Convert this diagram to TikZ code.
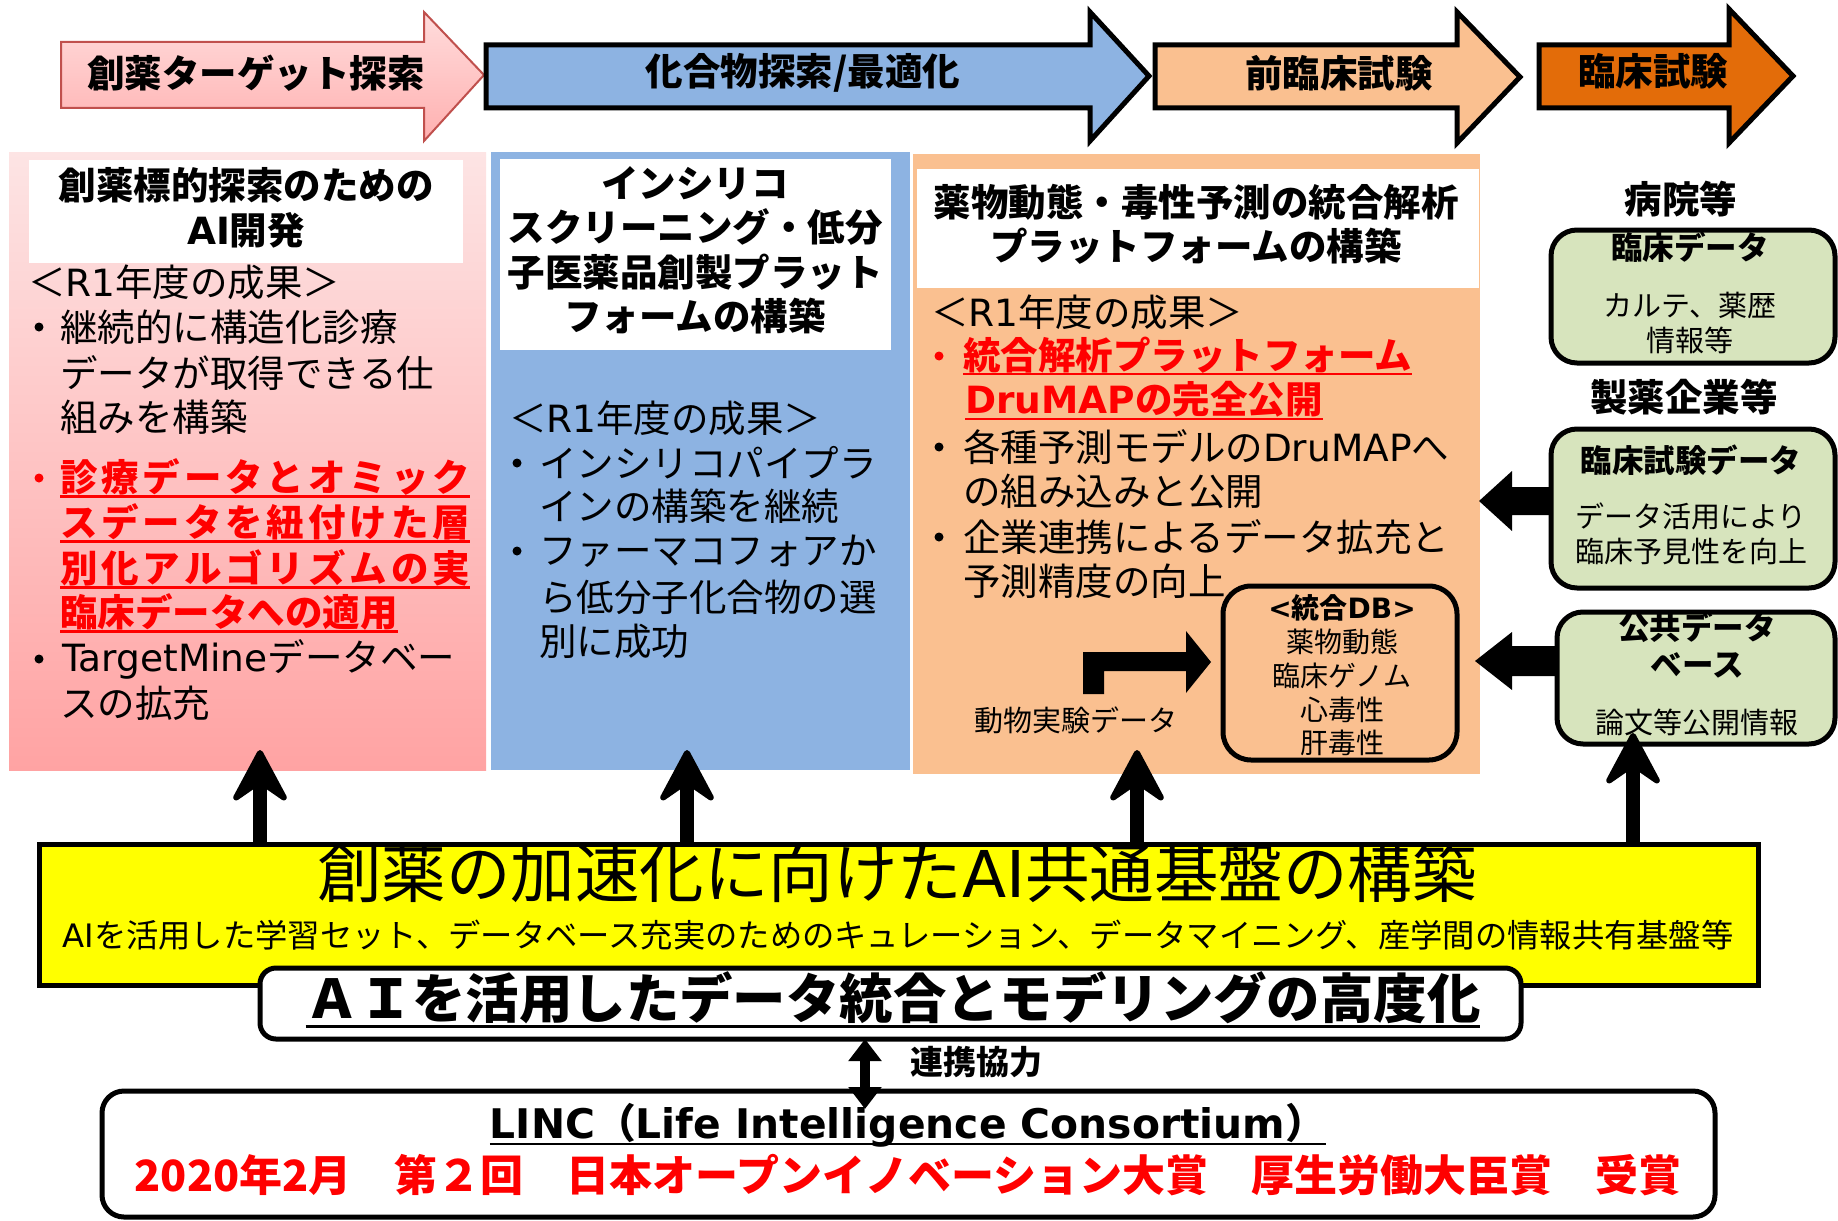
\documentclass[tikz,border=0pt]{standalone}
\usepackage{fontspec}
\setmainfont{Noto Sans CJK JP}
\newfontfamily\lat{DejaVu Sans}
\usetikzlibrary{arrows.meta}
\definecolor{pinkA}{HTML}{FDE4E4}
\definecolor{pinkB}{HTML}{FFA3A3}
\definecolor{apinkA}{HTML}{FFDCDC}
\definecolor{apinkB}{HTML}{FFB0B0}
\definecolor{aborder}{HTML}{C0504D}
\definecolor{blueF}{HTML}{8DB3E2}
\definecolor{peach}{HTML}{FAC090}
\definecolor{dorange}{HTML}{E36C09}
\definecolor{greenF}{HTML}{D7E4BD}
\definecolor{redT}{HTML}{FF0000}
\definecolor{yellowF}{HTML}{FFFF00}
\makeatletter
\newcommand\spreadtxt[1]{\def\sp@sep{}\@tfor\sp@c:=#1\do{\sp@sep\sp@c\def\sp@sep{\hfill}}}
\makeatother
\newcommand\jus[2]{\makebox[#1][l]{\spreadtxt{#2}}}
\newcommand\ulx[1]{\setbox0\hbox{#1}\rlap{\rule[-0.17em]{\wd0}{0.065em}}\box0}
\begin{document}
\begin{tikzpicture}[x=1pt,y=-1pt,
  t/.style={inner sep=0pt,outer sep=0pt},
  lw/.style={t,anchor=west},
  fb/.style={font=\fontsize{37.5}{45}\selectfont},
  fbb/.style={font=\bfseries\fontsize{37.5}{45}\selectfont},
  rb/.style={font=\bfseries\fontsize{37.5}{45}\selectfont,text=redT},
  gt/.style={t,font=\bfseries\fontsize{31.5}{36}\selectfont},
  gb/.style={t,font=\fontsize{29}{34}\selectfont},
  dbf/.style={t,font=\fontsize{28}{32}\selectfont},
  stage/.style={draw=black,line width=5pt,line join=miter},
  panel/.style={t,draw=none},
  whead/.style={t,fill=white,draw=none},
  gbox/.style={t,draw=black,line width=5pt,rounded corners=26pt,fill=greenF},
  uparrow/.style={line width=14pt,-{Stealth[length=60pt,width=64pt,inset=22pt,line width=6pt,round]}},
  dblarrow/.style={line width=10pt,{Triangle[length=22pt,width=32pt]}-{Triangle[length=22pt,width=32pt]}},
  bullet/.style={fill=black},
  rbullet/.style={fill=redT}
  ]
\fill[white] (0,0) rectangle (1838,1220);
\useasboundingbox (0,0) rectangle (1838,1220);

% stage arrows
\shadedraw[top color=apinkA,bottom color=apinkB,draw=aborder,line width=2pt] (61,42)--(424,42)--(424,12)--(484,75)--(424,141)--(424,108)--(61,108)--cycle;
\filldraw[fill=blueF,stage] (486,45)--(1090,45)--(1090,12)--(1149,76)--(1090,141)--(1090,108)--(486,108)--cycle;
\filldraw[fill=peach,stage] (1155,45)--(1457,45)--(1457,12)--(1520,77)--(1457,143)--(1457,108)--(1155,108)--cycle;
\filldraw[fill=dorange,stage] (1539,45)--(1729,45)--(1729,9)--(1793,76)--(1729,143)--(1729,108)--(1539,108)--cycle;
\node[t,fbb] (s1) at (256,73) {創薬ターゲット探索};
\node[t,fbb] (s2) at (803,73) {化合物探索/最適化};
\node[t,fbb] (s3) at (1339,73) {前臨床試験};
\node[t,fbb] (s4) at (1653,71) {臨床試験};

% panels
\node[panel,top color=pinkA,bottom color=pinkB,minimum width=477pt,minimum height=618pt] (pinkp) at (247.5,461) {};
\node[whead,minimum width=434pt,minimum height=103pt] (pinkh) at (246,211.5) {};
\node[panel,fill=blueF,minimum width=419pt,minimum height=618pt] (bluep) at (700.5,461) {};
\node[whead,minimum width=391pt,minimum height=191pt] (blueh) at (695.5,254.5) {};
\node[panel,fill=peach,minimum width=567pt,minimum height=620pt] (orp) at (1196.5,464) {};
\node[whead,minimum width=562pt,minimum height=119pt] (orh) at (1198,228.5) {};

% pink panel text
\node[t,fbb] (ph1) at (246,185) {創薬標的探索のための};
\node[t,fbb] (ph2) at (246,230) {{\lat AI}開発};
\node[lw,fb] (pr) at (28,282) {＜{\lat R1}年度の成果＞};
\fill[bullet] (39,327) circle (4.5pt);
\node[lw,fb] (p1) at (60,327) {継続的に構造化診療};
\node[lw,fb] (p2) at (60,373) {データが取得できる仕};
\node[lw,fb] (p3) at (60,417) {組みを構築};
\fill[rbullet] (39,478) circle (4.5pt);
\node[lw,rb] (p4) at (60,478) {\ulx{\jus{410pt}{診療データとオミック}}};
\node[lw,rb] (p5) at (60,523) {\ulx{\jus{410pt}{スデータを紐付けた層}}};
\node[lw,rb] (p6) at (60,569) {\ulx{\jus{410pt}{別化アルゴリズムの実}}};
\node[lw,rb] (p7) at (60,613) {\ulx{臨床データへの適用}};
\fill[bullet] (39,659) circle (4.5pt);
\node[lw,fb] (p8) at (62,659) {{\lat TargetMine}データベー};
\node[lw,fb] (p9) at (60,703) {スの拡充};

% blue panel text
\node[t,fbb] (bh1) at (695,183) {インシリコ};
\node[t,fbb] (bh2) at (695,227) {スクリーニング・低分};
\node[t,fbb] (bh3) at (695,272) {子医薬品創製プラット};
\node[t,fbb] (bh4) at (695,316) {フォームの構築};
\node[lw,fb] (br) at (509,418) {＜{\lat R1}年度の成果＞};
\fill[bullet] (517,463) circle (4.5pt);
\node[lw,fb] (b1) at (539,463) {インシリコパイプラ};
\node[lw,fb] (b2) at (539,506) {インの構築を継続};
\fill[bullet] (517,551) circle (4.5pt);
\node[lw,fb] (b3) at (539,551) {ファーマコフォアか};
\node[lw,fb] (b4) at (539,597) {ら低分子化合物の選};
\node[lw,fb] (b5) at (539,641) {別に成功};

% orange panel text
\node[t,fbb] (oh1) at (1196,202) {薬物動態・毒性予測の統合解析};
\node[t,fbb] (oh2) at (1196,246) {プラットフォームの構築};
\node[lw,fb] (or) at (931,312) {＜{\lat R1}年度の成果＞};
\fill[rbullet] (939,356) circle (4.5pt);
\node[lw,rb] (o1) at (963,356) {\ulx{統合解析プラットフォーム}};
\node[lw,rb] (o2) at (965,401) {\ulx{{\lat DruMAP}の完全公開}};
\fill[bullet] (939,447) circle (4.5pt);
\node[lw,fb] (o3) at (963,447) {各種予測モデルの{\lat DruMAP}へ};
\node[lw,fb] (o4) at (963,491) {の組み込みと公開};
\fill[bullet] (939,537) circle (4.5pt);
\node[lw,fb] (o5) at (963,537) {企業連携によるデータ拡充と};
\node[lw,fb] (o6) at (963,581) {予測精度の向上};

% integrated DB
\node[t,draw=black,line width=5pt,rounded corners=28pt,minimum width=234pt,minimum height=174pt] (db) at (1340,673) {};
\node[dbf,font=\bfseries\fontsize{28}{32}\selectfont] (db0) at (1342,608) {{\lat\bfseries <}統合{\lat\bfseries DB>}};
\node[dbf] (db1) at (1342,642) {薬物動態};
\node[dbf] (db2) at (1342,676) {臨床ゲノム};
\node[dbf] (db3) at (1342,710) {心毒性};
\node[dbf] (db4) at (1342,743) {肝毒性};
\fill (1083,694)--(1083,652)--(1186,652)--(1186,631)--(1211,662)--(1186,693)--(1186,671)--(1104,671)--(1104,694)--cycle;
\node[gb] (anim) at (1076,720) {動物実験データ};

% right side sources
\node[t,fbb] (hosp) at (1681,199) {病院等};
\node[gbox,minimum width=284pt,minimum height=133pt] (g1) at (1693,296.5) {};
\node[gt] (g1t) at (1690,247) {臨床データ};
\node[gb] (g1a) at (1690,305) {カルテ、薬歴};
\node[gb] (g1b) at (1690,340) {情報等};
\node[t,fbb] (pharma) at (1684,397) {製薬企業等};
\node[gbox,minimum width=284pt,minimum height=159pt] (g2) at (1693,508.5) {};
\node[gt] (g2t) at (1691,460) {臨床試験データ};
\node[gb] (g2a) at (1691,516) {データ活用により};
\node[gb] (g2b) at (1691,551) {臨床予見性を向上};
\node[gbox,minimum width=278pt,minimum height=132pt] (g3) at (1696,678) {};
\node[gt] (g3t) at (1697,627) {公共データ};
\node[gt] (g3u) at (1697,665) {ベース};
\node[gb] (g3a) at (1697,722) {論文等公開情報};
\fill (g2.west |- 0,487)--(1512,487)--(1512,471)--(1479,501)--(1512,531)--(1512,515)--(g2.west |- 0,515)--cycle;
\fill (g3.west |- 0,646)--(1512,646)--(1512,632)--(1475,661)--(1512,690)--(1512,676)--(g3.west |- 0,676)--cycle;

% yellow base
\node[t,draw=black,line width=5pt,fill=yellowF,minimum width=1719pt,minimum height=141pt] (yb) at (898.5,914.5) {};
\node[t,font=\fontsize{64.5}{70}\selectfont] (ybt) at (897,873) {創薬の加速化に向けた{\lat AI}共通基盤の構築};
\node[t,font=\fontsize{32.3}{36}\selectfont] (ybs) at (898,935) {{\lat AI}を活用した学習セット、データベース充実のためのキュレーション、データマイニング、産学間の情報共有基盤等};

% up arrows
\coordinate (t1) at (260,750);
\coordinate (t2) at (687,750);
\coordinate (t3) at (1137,750);
\coordinate (t4) at (1633,733);
\draw[uparrow] (yb.north -| t1) -- (t1);
\draw[uparrow] (yb.north -| t2) -- (t2);
\draw[uparrow] (yb.north -| t3) -- (t3);
\draw[uparrow] (yb.north -| t4) -- (t4);

% white box
\node[t,draw=black,line width=5pt,fill=white,rounded corners=16pt,minimum width=1261pt,minimum height=71pt] (wb) at (890.5,1003.5) {};
\node[t,font=\bfseries\fontsize{53.4}{60}\selectfont] (wbt) at (893,1000) {\ulx{ＡＩを活用したデータ統合とモデリングの高度化}};

% bottom box
\node[t,draw=black,line width=5pt,fill=white,rounded corners=22pt,minimum width=1613pt,minimum height=126pt] (bb) at (908.5,1154) {};
\node[t,font=\bfseries\fontsize{40.8}{46}\selectfont] (linc) at (908,1125) {\ulx{{\lat\bfseries LINC}（{\lat\bfseries Life Intelligence Consortium}）}};
\node[t,font=\bfseries\fontsize{43}{48}\selectfont,text=redT] (award) at (908,1175) {2020年2月　第２回　日本オープンイノベーション大賞　厚生労働大臣賞　受賞};

% link arrow
\coordinate (da) at (865,1109);
\draw[dblarrow] (wb.south -| da) -- (da);
\node[t,font=\bfseries\fontsize{33}{38}\selectfont] (coop) at (976,1062) {連携協力};
\end{tikzpicture}
\end{document}
